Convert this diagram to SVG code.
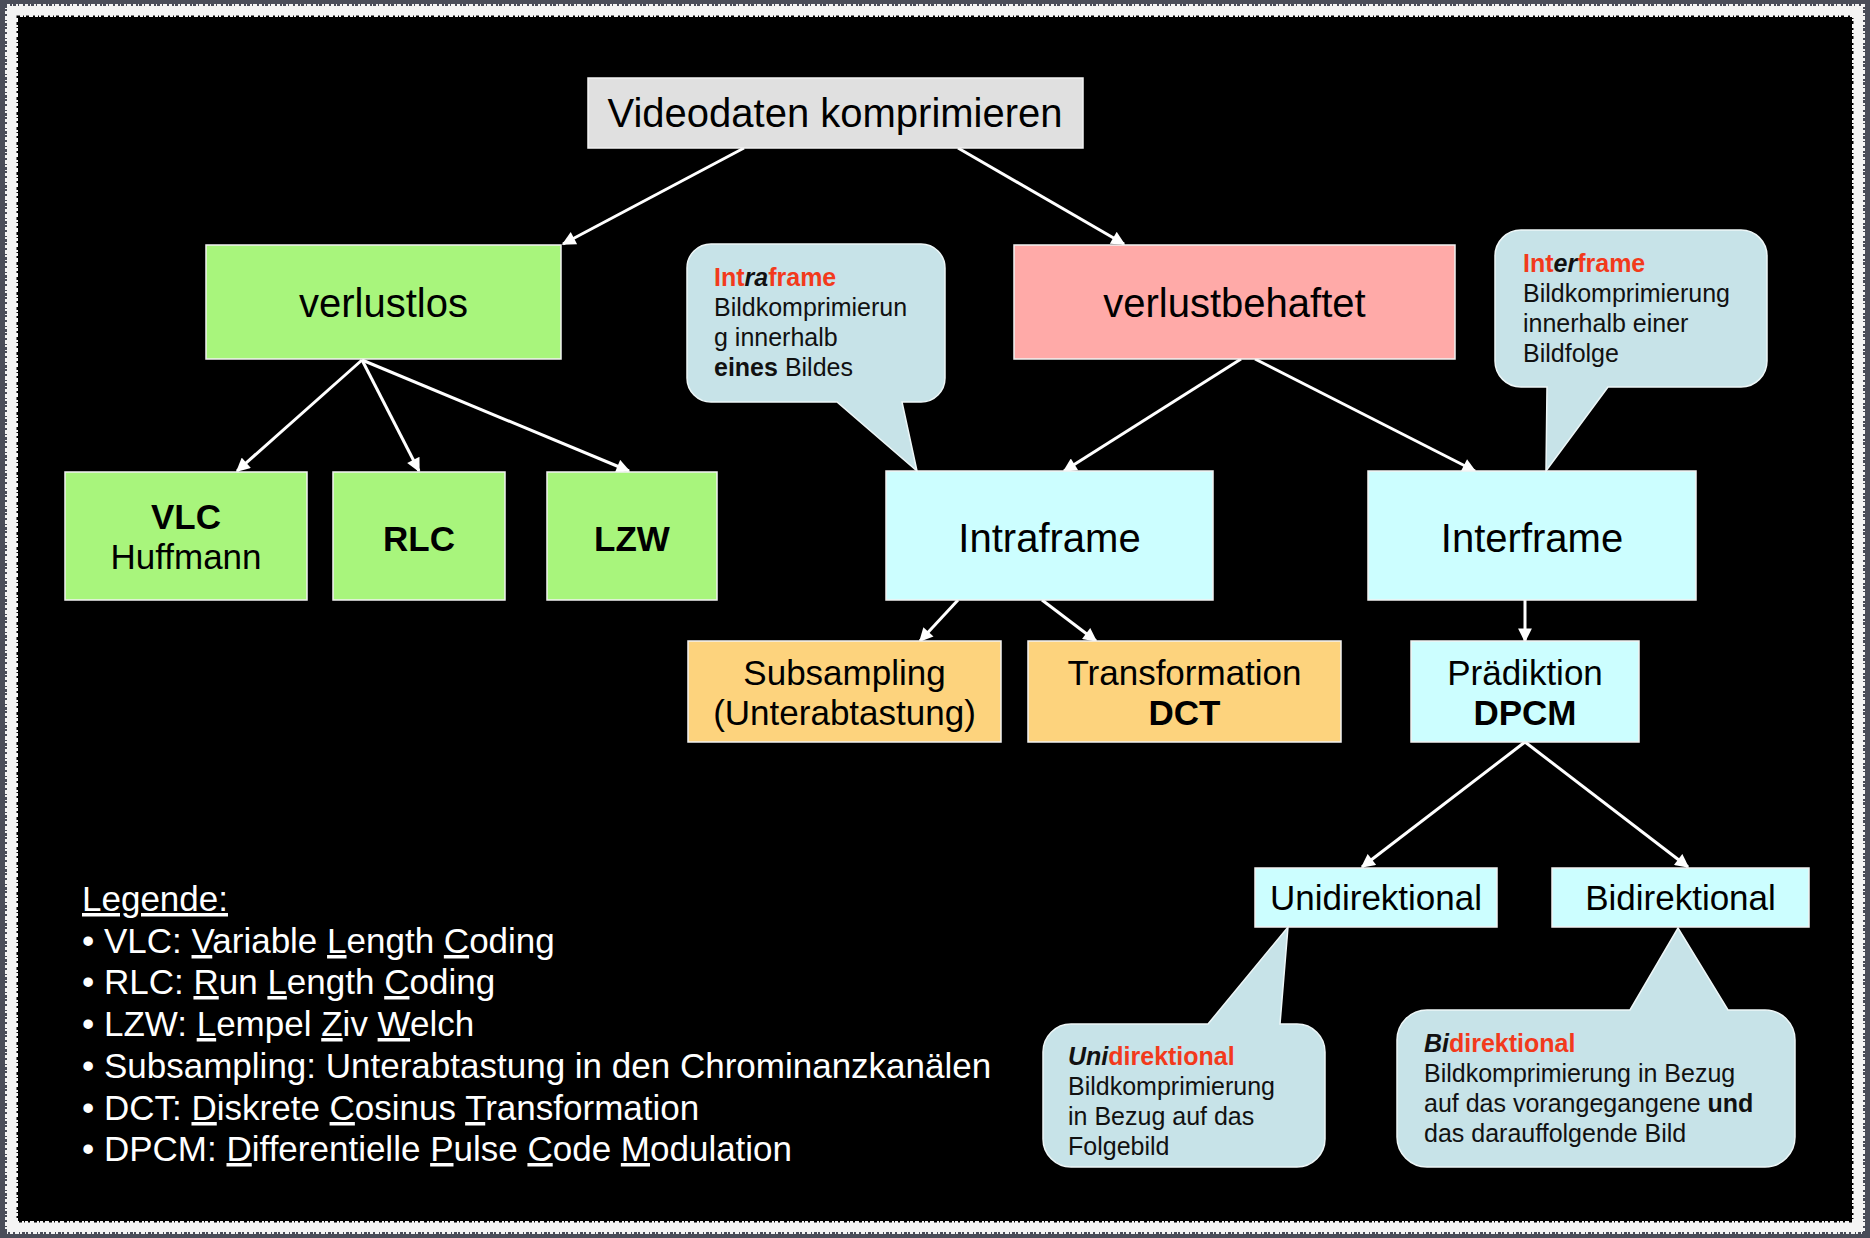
<svg xmlns="http://www.w3.org/2000/svg" width="1870" height="1238" viewBox="0 0 1870 1238">
<defs>
<style>
text{font-family:"Liberation Sans",Arial,Helvetica,sans-serif;}
.box{stroke:#f2f2f2;stroke-width:1.5;}
.t40{font-size:40px;fill:#000;text-anchor:middle;}
.t35{font-size:35px;fill:#000;text-anchor:middle;}
.b{font-weight:bold;}
.call{fill:#c7e3e8;stroke:#eef7f8;stroke-width:1.5;}
.ct{font-size:25px;fill:#111;}
.red{fill:#f23a1c;font-weight:bold;}
.bi{fill:#111;font-weight:bold;font-style:italic;}
.leg{font-size:35px;fill:#fff;}
.u{text-decoration:underline;}
.conn line{stroke:#fff;stroke-width:3;marker-end:url(#arr);}
</style>
<marker id="arr" viewBox="0 0 10 10" refX="9" refY="5" markerWidth="5" markerHeight="4.6" orient="auto" markerUnits="strokeWidth">
<path d="M0,0 L10,5 L0,10 Z" fill="#fff"/>
</marker>
</defs>
<!-- frame -->
<rect x="0" y="0" width="1870" height="1238" fill="#4a4d59"/>
<rect x="7" y="6" width="1856" height="1226" fill="#f4f4f4" stroke="#f4f4f4" stroke-width="4" stroke-dasharray="3 2 1 3 2 1 4 2"/>
<rect x="18" y="17" width="1834" height="1204" fill="#000" stroke="#000" stroke-width="3" stroke-dasharray="2 3 1 2 3 4"/>

<g class="conn" id="connectors">
<line x1="744" y1="148" x2="563" y2="244"/>
<line x1="958" y1="148" x2="1124" y2="244"/>
<line x1="362" y1="360" x2="237" y2="471"/>
<line x1="362" y1="360" x2="419" y2="471"/>
<line x1="362" y1="360" x2="629" y2="471"/>
<line x1="1241" y1="359" x2="1064" y2="471"/>
<line x1="1255" y1="359" x2="1475" y2="471"/>
<line x1="958" y1="600" x2="920" y2="641"/>
<line x1="1042" y1="600" x2="1096" y2="641"/>
<line x1="1525" y1="600" x2="1525" y2="641"/>
<line x1="1525" y1="742" x2="1362" y2="867"/>
<line x1="1525" y1="742" x2="1688" y2="867"/>
</g>

<g id="videodaten">
<rect class="box" x="588" y="78" width="495" height="70" fill="#e0e0e0"/>
<text class="t40" x="835" y="127">Videodaten komprimieren</text>
</g>
<g id="verlustlos">
<rect class="box" x="206" y="245" width="355" height="114" fill="#a8f57c"/>
<text class="t40" x="383.5" y="317">verlustlos</text>
</g>
<g id="verlustbehaftet">
<rect class="box" x="1014" y="245" width="441" height="114" fill="#ffaaa8"/>
<text class="t40" x="1234.5" y="317">verlustbehaftet</text>
</g>
<g id="vlc">
<rect class="box" x="65" y="472" width="242" height="128" fill="#a8f57c"/>
<text class="t35 b" x="186" y="529">VLC</text>
<text class="t35" x="186" y="569">Huffmann</text>
</g>
<g id="rlc">
<rect class="box" x="333" y="472" width="172" height="128" fill="#a8f57c"/>
<text class="t35 b" x="419" y="551">RLC</text>
</g>
<g id="lzw">
<rect class="box" x="547" y="472" width="170" height="128" fill="#a8f57c"/>
<text class="t35 b" x="632" y="551">LZW</text>
</g>
<g id="intraframe">
<rect class="box" x="886" y="471" width="327" height="129" fill="#ccfeff"/>
<text class="t40" x="1049.5" y="552">Intraframe</text>
</g>
<g id="interframe">
<rect class="box" x="1368" y="471" width="328" height="129" fill="#ccfeff"/>
<text class="t40" x="1532" y="552">Interframe</text>
</g>
<g id="subsampling">
<rect class="box" x="688" y="641" width="313" height="101" fill="#fdd37d"/>
<text class="t35" x="844.5" y="685">Subsampling</text>
<text class="t35" x="844.5" y="725">(Unterabtastung)</text>
</g>
<g id="transformation">
<rect class="box" x="1028" y="641" width="313" height="101" fill="#fdd37d"/>
<text class="t35" x="1184.5" y="685">Transformation</text>
<text class="t35 b" x="1184.5" y="725">DCT</text>
</g>
<g id="praediktion">
<rect class="box" x="1411" y="641" width="228" height="101" fill="#ccfeff"/>
<text class="t35" x="1525" y="685">Prädiktion</text>
<text class="t35 b" x="1525" y="725">DPCM</text>
</g>
<g id="unidirektional">
<rect class="box" x="1255" y="868" width="242" height="59" fill="#ccfeff"/>
<text class="t35" x="1376" y="910">Unidirektional</text>
</g>
<g id="bidirektional">
<rect class="box" x="1552" y="868" width="257" height="59" fill="#ccfeff"/>
<text class="t35" x="1680.5" y="910">Bidirektional</text>
</g>

<g id="callout-intra">
<path class="call" d="M711,244 H921 A24,24 0 0 1 945,268 V378 A24,24 0 0 1 921,402 H902 L917,471 L837,402 H711 A24,24 0 0 1 687,378 V268 A24,24 0 0 1 711,244 Z"/>
<text class="ct" x="714" y="286"><tspan class="red">Int</tspan><tspan class="bi">ra</tspan><tspan class="red">frame</tspan></text>
<text class="ct" x="714" y="316">Bildkomprimierun</text>
<text class="ct" x="714" y="346">g innerhalb</text>
<text class="ct" x="714" y="376"><tspan class="b">eines</tspan> Bildes</text>
</g>
<g id="callout-inter">
<path class="call" d="M1521,230 H1741 A26,26 0 0 1 1767,256 V361 A26,26 0 0 1 1741,387 H1608 L1546,471 L1547,387 H1521 A26,26 0 0 1 1495,361 V256 A26,26 0 0 1 1521,230 Z"/>
<text class="ct" x="1523" y="272"><tspan class="red">Int</tspan><tspan class="bi">er</tspan><tspan class="red">frame</tspan></text>
<text class="ct" x="1523" y="302">Bildkomprimierung</text>
<text class="ct" x="1523" y="332">innerhalb einer</text>
<text class="ct" x="1523" y="362">Bildfolge</text>
</g>
<g id="callout-uni">
<path class="call" d="M1071,1024 H1208 L1288,927 L1280,1024 H1297 A28,28 0 0 1 1325,1052 V1139 A28,28 0 0 1 1297,1167 H1071 A28,28 0 0 1 1043,1139 V1052 A28,28 0 0 1 1071,1024 Z"/>
<text class="ct" x="1068" y="1065"><tspan class="bi">Uni</tspan><tspan class="red">direktional</tspan></text>
<text class="ct" x="1068" y="1095">Bildkomprimierung</text>
<text class="ct" x="1068" y="1125">in Bezug auf das</text>
<text class="ct" x="1068" y="1155">Folgebild</text>
</g>
<g id="callout-bi">
<path class="call" d="M1427,1010 H1630 L1678,928 L1728,1010 H1765 A30,30 0 0 1 1795,1040 V1137 A30,30 0 0 1 1765,1167 H1427 A30,30 0 0 1 1397,1137 V1040 A30,30 0 0 1 1427,1010 Z"/>
<text class="ct" x="1424" y="1052"><tspan class="bi">Bi</tspan><tspan class="red">direktional</tspan></text>
<text class="ct" x="1424" y="1082">Bildkomprimierung in Bezug</text>
<text class="ct" x="1424" y="1112">auf das vorangegangene <tspan class="b">und</tspan></text>
<text class="ct" x="1424" y="1142">das darauffolgende Bild</text>
</g>

<g id="legend">
<text class="leg u" x="82" y="911">Legende:</text>
<text class="leg" x="82" y="953">• VLC: <tspan class="u">V</tspan>ariable <tspan class="u">L</tspan>ength <tspan class="u">C</tspan>oding</text>
<text class="leg" x="82" y="994">• RLC: <tspan class="u">R</tspan>un <tspan class="u">L</tspan>ength <tspan class="u">C</tspan>oding</text>
<text class="leg" x="82" y="1036">• LZW: <tspan class="u">L</tspan>empel <tspan class="u">Z</tspan>iv <tspan class="u">W</tspan>elch</text>
<text class="leg" x="82" y="1078">• Subsampling: Unterabtastung in den Chrominanzkanälen</text>
<text class="leg" x="82" y="1120">• DCT: <tspan class="u">D</tspan>iskrete <tspan class="u">C</tspan>osinus <tspan class="u">T</tspan>ransformation</text>
<text class="leg" x="82" y="1161">• DPCM: <tspan class="u">D</tspan>ifferentielle <tspan class="u">P</tspan>ulse <tspan class="u">C</tspan>ode <tspan class="u">M</tspan>odulation</text>
</g>
</svg>
